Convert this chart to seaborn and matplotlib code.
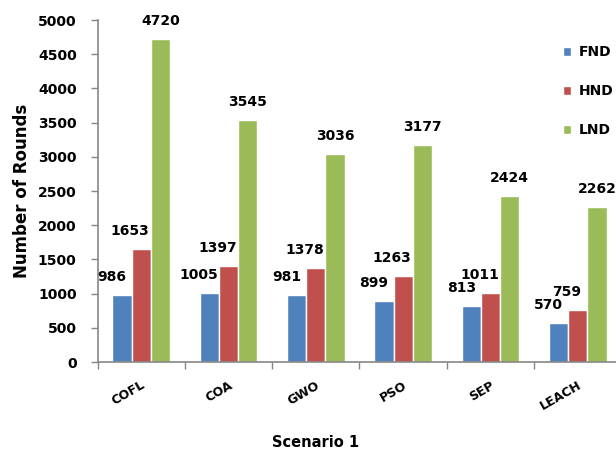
import matplotlib
matplotlib.use("Agg")
import matplotlib.pyplot as plt
from matplotlib.patches import Patch
import pandas as pd
import seaborn as sns

# 데이터
algorithms = ["COFL", "COA", "GWO", "PSO", "SEP", "LEACH"]
metrics = ["FND", "HND", "LND"]
fnd = [986, 1005, 981, 899, 813, 570]
hnd = [1653, 1397, 1378, 1263, 1011, 759]
lnd = [4720, 3545, 3036, 3177, 2424, 2262]
colors = ["#4F81BD", "#C0504D", "#9BBB59"]

df = pd.DataFrame(
    {
        "Algorithm": algorithms * 3,
        "Metric": [m for m in metrics for _ in algorithms],
        "Rounds": fnd + hnd + lnd,
    }
)

sns.set_style("white")
plt.rcParams["font.family"] = ["DejaVu Sans"]
plt.rcParams["font.weight"] = "bold"
plt.rcParams["text.color"] = "black"
plt.rcParams["axes.labelcolor"] = "black"
plt.rcParams["xtick.labelcolor"] = "black"
plt.rcParams["ytick.labelcolor"] = "black"

fig = plt.figure(figsize=(6.16, 4.51), dpi=100)
ax = fig.add_axes([0.1583, 0.1973, 0.8506, 0.7583])

sns.barplot(
    data=df,
    x="Algorithm",
    y="Rounds",
    hue="Metric",
    palette=colors,
    saturation=1,
    width=0.66,
    edgecolor="white",
    linewidth=1,
    legend=False,
    ax=ax,
)

# 값 라벨 (시리즈별 약간 왼쪽으로 이동)
label_dx = [-10, -11, 0]
for cont, dx in zip(ax.containers, label_dx):
    for bar in cont:
        h = bar.get_height()
        ax.annotate(
            f"{h:.0f}",
            (bar.get_x() + bar.get_width() / 2, h),
            xytext=(dx, 18),
            textcoords="offset pixels",
            ha="center",
            va="center",
            fontsize=10,
            fontweight="bold",
            color="black",
            annotation_clip=False,
        )

ax.set_xlim(-0.5, 5.5)
ax.set_ylim(0, 5000)
ax.set_yticks(range(0, 5001, 500))
ax.tick_params(axis="y", labelsize=10, length=5, width=1, color="#868686",
               direction="out", left=True, pad=10)
ax.set_xticks(range(len(algorithms)))
ax.set_xticklabels(algorithms, rotation=30, ha="right", rotation_mode="anchor",
                   fontsize=9, fontweight="bold")
ax.set_xticks([i - 0.5 for i in range(len(algorithms) + 1)], minor=True)
ax.tick_params(axis="x", which="major", length=0, pad=12)
ax.tick_params(axis="x", which="minor", length=5, width=1, color="#868686",
               direction="out", bottom=True)

for side in ["top", "right"]:
    ax.spines[side].set_visible(False)
for side in ["left", "bottom"]:
    ax.spines[side].set_color("#868686")
    ax.spines[side].set_linewidth(1.2)

ax.set_xlabel("Scenario 1", fontsize=10.5, fontweight="bold", labelpad=16, x=0.417)
ax.set_ylabel("Number of Rounds", fontsize=12, fontweight="bold", labelpad=5)

handles = [Patch(facecolor=c, edgecolor="white", label=m) for c, m in zip(colors, metrics)]
fig.legend(
    handles=handles,
    loc="upper left",
    bbox_to_anchor=(0.914, 0.9),
    frameon=False,
    handlelength=0.6,
    handleheight=0.6,
    handletextpad=0.5,
    labelspacing=1.8,
    borderpad=0,
    borderaxespad=0,
    prop={"weight": "bold", "size": 10},
)

fig.savefig("out.png", dpi=100)
